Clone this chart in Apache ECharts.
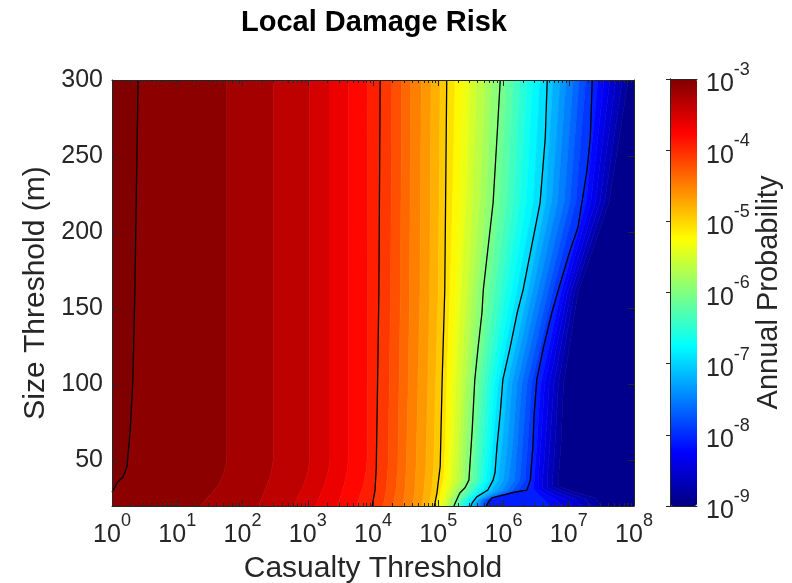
<!DOCTYPE html>
<html>
<head>
<meta charset="utf-8">
<script src="https://cdn.jsdelivr.net/npm/echarts@6/dist/echarts.min.js"></script>
<style>
html, body { margin: 0; padding: 0; background: #ffffff; }
#chart { width: 792px; height: 583px; }
</style>
</head>
<body>
<div id="chart"></div>
<script>
// Contour levels of log10(annual probability), seven per decade, highest first
const levelValues = [
  -3, -3.143, -3.286, -3.429, -3.571, -3.714, -3.857,
  -4, -4.143, -4.286, -4.429, -4.571, -4.714, -4.857,
  -5, -5.143, -5.286, -5.429, -5.571, -5.714, -5.857,
  -6, -6.143, -6.286, -6.429, -6.571, -6.714, -6.857,
  -7, -7.143, -7.286, -7.429, -7.571, -7.714, -7.857,
  -8, -8.143, -8.286, -8.429, -8.571, -8.714, -8.857
];

// Contour paths, one per level: [log10(casualty threshold), size threshold in m]
const contoursDecade3 = [
  [[0.40,300],[0.35,160],[0.32,103],[0.28,70],[0.23,46],[0.17,39],[0.09,36],[0,29]],
  [[1.76,300],[1.76,50],[1.72,42],[1.62,33],[1.50,27],[1.35,20]],
  [[2.47,300],[2.47,50],[2.44,42],[2.37,33],[2.31,27],[2.25,20]],
  [[3.03,300],[3.03,50],[3.00,42],[2.93,33],[2.86,27],[2.78,20]],
  [[3.34,300],[3.34,50],[3.31,42],[3.25,33],[3.19,27],[3.12,20]],
  [[3.62,300],[3.62,50],[3.60,42],[3.55,33],[3.51,27],[3.46,20]],
  [[3.92,300],[3.91,50],[3.89,42],[3.85,33],[3.80,27],[3.75,20]]
];
const contoursDecade4 = [
  [[4.11,300],[4.09,160],[4.07,100],[4.05,45],[4.03,30],[4.00,23],[3.99,20]],
  [[4.29,300],[4.27,160],[4.25,100],[4.23,45],[4.20,30],[4.17,23],[4.15,20]],
  [[4.44,300],[4.42,160],[4.40,100],[4.38,45],[4.35,30],[4.32,23],[4.31,20]],
  [[4.58,300],[4.56,160],[4.54,100],[4.51,45],[4.49,30],[4.47,23],[4.46,20]],
  [[4.74,300],[4.72,160],[4.69,100],[4.66,45],[4.64,30],[4.62,23],[4.61,20]],
  [[4.89,300],[4.87,160],[4.84,100],[4.81,45],[4.78,30],[4.76,23],[4.75,20]],
  [[5.03,300],[5.00,160],[4.96,100],[4.93,45],[4.90,30],[4.87,23],[4.86,20]]
];
const contoursDecade5 = [
  [[5.13,300],[5.10,162],[5.06,103],[5.03,46],[4.98,28.5],[4.95,22],[4.94,20]],
  [[5.26,300],[5.22,220],[5.18,160],[5.13,100],[5.11,60],[5.08,37],[5.04,30],[5.01,24],[4.98,20]],
  [[5.38,300],[5.33,220],[5.27,160],[5.20,100],[5.17,60],[5.14,37],[5.09,30],[5.05,24],[5.03,20]],
  [[5.49,300],[5.43,220],[5.35,160],[5.27,100],[5.24,60],[5.21,37],[5.15,30],[5.10,24],[5.07,20]],
  [[5.59,300],[5.53,220],[5.44,160],[5.35,100],[5.31,60],[5.28,37],[5.21,30],[5.15,24],[5.12,20]],
  [[5.72,300],[5.64,220],[5.52,160],[5.42,100],[5.37,60],[5.34,37],[5.26,30],[5.19,24],[5.16,20]],
  [[5.82,300],[5.74,220],[5.60,160],[5.49,100],[5.43,60],[5.40,37],[5.31,30],[5.23,24],[5.20,20]]
];
const contoursDecade6 = [
  [[5.95,300],[5.90,262],[5.84,219],[5.69,162],[5.67,147],[5.61,124],[5.56,103],[5.52,70],[5.47,37],[5.41,32],[5.33,28.5],[5.26,22],[5.24,20]],
  [[6.05,300],[5.94,220],[5.78,160],[5.62,100],[5.56,60],[5.52,37],[5.42,30],[5.32,24],[5.28,20]],
  [[6.15,300],[6.05,220],[5.86,160],[5.68,100],[5.61,60],[5.58,37],[5.48,30],[5.36,24],[5.31,20]],
  [[6.25,300],[6.15,220],[5.95,160],[5.74,100],[5.67,60],[5.63,37],[5.53,30],[5.40,24],[5.35,20]],
  [[6.36,300],[6.25,220],[6.03,160],[5.80,100],[5.73,60],[5.68,37],[5.58,30],[5.43,24],[5.39,20]],
  [[6.45,300],[6.35,220],[6.12,160],[5.86,100],[5.79,60],[5.73,37],[5.63,30],[5.47,24],[5.43,20]],
  [[6.56,300],[6.46,220],[6.20,160],[5.92,100],[5.84,60],[5.79,37],[5.69,30],[5.51,24],[5.46,20]]
];
const contoursDecade7 = [
  [[6.67,300],[6.64,262],[6.56,219],[6.30,162],[6.21,147],[6.10,124],[5.99,103],[5.95,81],[5.90,59],[5.87,42],[5.84,37],[5.76,30.5],[5.59,26],[5.52,22],[5.50,20]],
  [[6.76,300],[6.65,220],[6.37,160],[6.06,100],[5.98,60],[5.92,37],[5.82,30],[5.59,24],[5.53,20]],
  [[6.87,300],[6.74,220],[6.44,160],[6.13,100],[6.06,60],[6.00,37],[5.90,30],[5.62,24],[5.57,20]],
  [[6.96,300],[6.83,220],[6.52,160],[6.21,100],[6.14,60],[6.08,37],[5.98,30],[5.66,24],[5.60,20]],
  [[7.07,300],[6.93,220],[6.60,160],[6.28,100],[6.21,60],[6.17,37],[6.06,30],[5.69,24],[5.64,20]],
  [[7.16,300],[7.02,220],[6.68,160],[6.36,100],[6.29,60],[6.25,37],[6.14,30],[5.73,24],[5.67,20]],
  [[7.26,300],[7.11,220],[6.75,160],[6.43,100],[6.37,60],[6.33,37],[6.22,30],[5.76,24],[5.71,20]]
];
const contoursDecade8 = [
  [[7.36,300],[7.33,262],[7.28,241],[7.20,219],[7.14,203],[7.02,188],[6.84,162],[6.74,147],[6.61,124],[6.51,103],[6.47,81],[6.45,59],[6.41,37],[6.36,30.5],[6.18,29.2],[5.99,27.2],[5.82,25.3],[5.76,22],[5.74,20]],
  [[7.45,300],[7.27,220],[6.88,160],[6.57,100],[6.51,60],[6.47,37],[6.46,31],[6.55,27],[6.65,23],[6.70,20]],
  [[7.54,300],[7.34,220],[6.93,160],[6.63,100],[6.57,60],[6.53,37],[6.53,31],[6.65,27.5],[6.82,23.5],[6.90,20]],
  [[7.63,300],[7.41,220],[6.98,160],[6.70,100],[6.64,60],[6.60,37],[6.60,31.5],[6.75,28],[6.96,24],[7.05,20]],
  [[7.72,300],[7.48,220],[7.03,160],[6.77,100],[6.71,60],[6.67,37],[6.68,32],[6.85,28.5],[7.10,24.5],[7.20,20]],
  [[7.82,300],[7.55,220],[7.08,160],[6.84,100],[6.79,60],[6.75,37],[6.76,32.5],[6.95,29],[7.25,25],[7.35,20]],
  [[7.91,300],[7.62,220],[7.14,160],[6.92,100],[6.88,60],[6.84,37],[6.85,33],[7.05,29.5],[7.40,25.5],[7.50,20]]
];

// Axis ticks
const casualtyExponents = [0, 1, 2, 3, 4, 5, 6, 7, 8];
const sizeTicks = [50, 100, 150, 200, 250, 300];
const probabilityExponents = [-9, -8, -7, -6, -5, -4, -3];
const minorMultipliers = [2, 3, 4, 5, 6, 7, 8, 9];

// Colour scale (jet)
const jetColors = ['#000080', '#0000ff', '#0080ff', '#00ffff', '#80ff80', '#ffff00', '#ff8000', '#ff0000', '#800000'];

const X_MIN_EXP = 0, X_MAX_EXP = 8, S_MIN = 20, S_MAX = 300;
const FONT = 'Helvetica, "Liberation Sans", Arial, sans-serif';
const INK = '#262626';

const allContours = [].concat(contoursDecade3, contoursDecade4, contoursDecade5,
  contoursDecade6, contoursDecade7, contoursDecade8);
const decadeContours = [contoursDecade3[0], contoursDecade4[0], contoursDecade5[0],
  contoursDecade6[0], contoursDecade7[0], contoursDecade8[0]];

// Close each contour path along the plot frame so neighbouring paths bound a band
function framePath(path) {
  const pts = path.slice();
  if (pts[0][0] >= X_MAX_EXP) pts.unshift([X_MAX_EXP, S_MAX]);
  const last = pts[pts.length - 1];
  if (last[0] >= X_MAX_EXP) pts.push([X_MAX_EXP, S_MIN]);
  else if (last[0] <= X_MIN_EXP) pts.push([X_MIN_EXP, S_MIN]);
  return pts;
}
const framed = allContours.map(framePath);

// Filled bands between consecutive levels, coloured at the middle of each band
const bandPolygons = [];
const bandLevels = [];
bandPolygons.push([[X_MIN_EXP, S_MAX]].concat(framed[0], [[X_MIN_EXP, S_MIN]]));
bandLevels.push(levelValues[0]);
for (let i = 1; i < framed.length; i++) {
  bandPolygons.push(framed[i - 1].concat(framed[i].slice().reverse()));
  bandLevels.push((levelValues[i - 1] + levelValues[i]) / 2);
}
bandPolygons.push(framed[framed.length - 1].concat([[X_MAX_EXP, S_MIN], [X_MAX_EXP, S_MAX]]));
bandLevels.push(levelValues[levelValues.length - 1] - 0.0714);

const bandData = bandLevels.map(v => ({ value: [1, S_MIN, v] }));

const majorC = casualtyExponents.map(e => Math.pow(10, e));
const minorC = [];
casualtyExponents.slice(0, -1).forEach(e => minorMultipliers.forEach(m => minorC.push(m * Math.pow(10, e))));
const majorP = probabilityExponents.map(e => Math.pow(10, e));

const powerRich = {
  b: { fontFamily: FONT, fontSize: 25, color: INK, lineHeight: 36, verticalAlign: 'bottom' },
  e: { fontFamily: FONT, fontSize: 18, color: INK, lineHeight: 16, verticalAlign: 'top' }
};
function powerLabel(v) {
  const e = Math.round(Math.log10(v));
  return '{b|10}{e|' + (e < 0 ? '-' + (-e) : e) + '}';
}

const frameLine = { show: true, lineStyle: { color: INK, width: 1 } };

const chart = echarts.init(document.getElementById('chart'), null, { renderer: 'canvas' });
chart.setOption({
  animation: false,
  backgroundColor: '#ffffff',
  graphic: [{
    type: 'text', x: 374, y: 23,
    style: { text: 'Local Damage Risk', font: 'bold 29px ' + FONT, fill: '#000', textAlign: 'center', textVerticalAlign: 'middle' }
  }],
  grid: [
    { left: 112, top: 80, width: 522, height: 426, outerBoundsMode: 'none', containLabel: false },
    { left: 670, top: 79, width: 27, height: 427, outerBoundsMode: 'none', containLabel: false }
  ],
  xAxis: [
    { gridIndex: 0, type: 'log', logBase: 10, min: 1, max: 1e8, position: 'bottom', z: 10,
      axisLine: frameLine,
      axisTick: { show: true, inside: true, length: 6, customValues: majorC, lineStyle: { color: INK } },
      axisLabel: { customValues: majorC, formatter: powerLabel, rich: powerRich, margin: 6 },
      splitLine: { show: false },
      name: 'Casualty Threshold', nameLocation: 'middle', nameGap: 48,
      nameTextStyle: { fontFamily: FONT, fontSize: 30, color: INK } },
    { gridIndex: 0, type: 'log', logBase: 10, min: 1, max: 1e8, position: 'top', z: 10,
      axisLine: frameLine,
      axisTick: { show: true, inside: true, length: 6, customValues: majorC, lineStyle: { color: INK } },
      axisLabel: { show: false }, splitLine: { show: false } },
    { gridIndex: 0, type: 'log', logBase: 10, min: 1, max: 1e8, position: 'bottom', z: 10,
      axisLine: { show: false },
      axisTick: { show: true, inside: true, length: 3, customValues: minorC, lineStyle: { color: INK } },
      axisLabel: { show: false }, splitLine: { show: false } },
    { gridIndex: 0, type: 'log', logBase: 10, min: 1, max: 1e8, position: 'top', z: 10,
      axisLine: { show: false },
      axisTick: { show: true, inside: true, length: 3, customValues: minorC, lineStyle: { color: INK } },
      axisLabel: { show: false }, splitLine: { show: false } },
    { gridIndex: 1, type: 'value', min: 0, max: 1, position: 'bottom', z: 10,
      axisLine: frameLine, axisTick: { show: false }, axisLabel: { show: false }, splitLine: { show: false } },
    { gridIndex: 1, type: 'value', min: 0, max: 1, position: 'top', z: 10,
      axisLine: frameLine, axisTick: { show: false }, axisLabel: { show: false }, splitLine: { show: false } }
  ],
  yAxis: [
    { gridIndex: 0, type: 'value', min: S_MIN, max: S_MAX, position: 'left', z: 10,
      axisLine: frameLine,
      axisTick: { show: true, inside: true, length: 6, customValues: sizeTicks, lineStyle: { color: INK } },
      axisLabel: { customValues: sizeTicks, fontFamily: FONT, fontSize: 25, color: INK, margin: 9 },
      splitLine: { show: false },
      name: 'Size Threshold (m)', nameLocation: 'middle', nameGap: 55, nameRotate: 90,
      nameTextStyle: { fontFamily: FONT, fontSize: 30, color: INK } },
    { gridIndex: 0, type: 'value', min: S_MIN, max: S_MAX, position: 'right', z: 10,
      axisLine: frameLine,
      axisTick: { show: true, inside: true, length: 6, customValues: sizeTicks, lineStyle: { color: INK } },
      axisLabel: { show: false }, splitLine: { show: false } },
    { gridIndex: 1, type: 'log', logBase: 10, min: 1e-9, max: 1e-3, position: 'right', z: 10,
      axisLine: frameLine,
      axisTick: { show: true, inside: true, length: 4, customValues: majorP, lineStyle: { color: INK } },
      axisLabel: { customValues: majorP, formatter: powerLabel, rich: powerRich, margin: 9 },
      splitLine: { show: false },
      name: 'Annual Probability', nameLocation: 'middle', nameGap: 57, nameRotate: 90,
      nameTextStyle: { fontFamily: FONT, fontSize: 29, color: INK } },
    { gridIndex: 1, type: 'log', logBase: 10, min: 1e-9, max: 1e-3, position: 'left', z: 10,
      axisLine: frameLine, axisTick: { show: false }, axisLabel: { show: false }, splitLine: { show: false } }
  ],
  visualMap: {
    type: 'continuous', show: true, min: -9, max: -3, dimension: 2, seriesIndex: 0,
    inRange: { color: jetColors }, calculable: false, hoverLink: false, realtime: false,
    orient: 'vertical', left: 670, top: 79, itemWidth: 27, itemHeight: 427,
    text: null, padding: 0, z: 4
  },
  series: [
    {
      type: 'custom', xAxisIndex: 0, yAxisIndex: 0, silent: true, clip: true, z: 2,
      data: bandData,
      renderItem: function (params, api) {
        const poly = bandPolygons[params.dataIndex];
        const pts = poly.map(p => api.coord([Math.pow(10, p[0]), p[1]]));
        const c = api.visual('color');
        return { type: 'polygon', shape: { points: pts }, style: { fill: c, stroke: c, lineWidth: 0.6 } };
      }
    }
  ].concat(decadeContours.map(path => ({
    type: 'line', xAxisIndex: 0, yAxisIndex: 0, silent: true, clip: true, z: 5,
    symbol: 'none', smooth: false,
    lineStyle: { color: '#000', width: 1.3 },
    data: path.map(p => [Math.pow(10, p[0]), p[1]])
  })))
});
</script>
</body>
</html>
